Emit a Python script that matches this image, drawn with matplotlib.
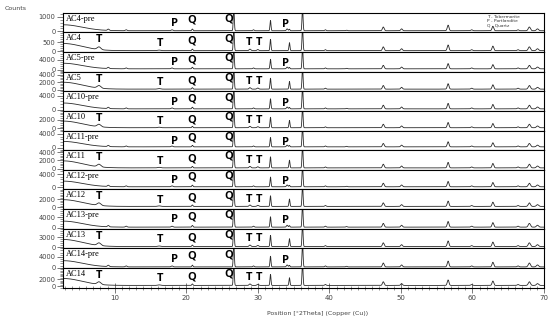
import numpy as np
import matplotlib.pyplot as plt
from matplotlib.ticker import MultipleLocator, AutoMinorLocator

# samples, top to bottom
names = ["AC4-pre", "AC4", "AC5-pre", "AC5", "AC10-pre", "AC10", "AC11-pre", "AC11",
         "AC12-pre", "AC12", "AC13-pre", "AC13", "AC14-pre", "AC14"]
y_low = [-70, -40, -900, -400, -400, -500, -800, -300, -600, -500, -300, -300, -100, -400]
y_high = [1250, 1050, 7000, 4800, 5200, 4000, 5000, 4500, 5300, 4500, 7000, 5500, 7200, 5200]
y_ticks = [[0, 1000], [0, 500], [0, 4000], [0, 2000, 4000], [0, 4000], [0, 2000],
           [0, 4000], [0, 2000, 4000], [0, 4000], [0, 2000], [0, 4000], [0, 3000],
           [0, 4000], [0, 2000]]

# peak list of the "pre" patterns (position deg 2theta, height as part of panel top, width)
pre_pos = [2.8, 9.1, 11.6, 18.0, 20.85, 26.64, 29.4, 31.77, 34.1, 34.42, 36.25,
           39.45, 42.4, 47.54, 50.1, 56.6, 59.9, 62.86, 66.38, 67.96, 69.1]
pre_rel = [0.32, 0.07, 0.05, 0.05, 0.09, 1.3, 0.05, 0.55, 0.1, 0.08, 1.3,
           0.05, 0.03, 0.2, 0.1, 0.3, 0.05, 0.24, 0.05, 0.2, 0.1]
pre_wid = [2.6, 0.12, 0.12, 0.12, 0.08, 0.07, 0.1, 0.07, 0.1, 0.07, 0.07,
           0.1, 0.1, 0.12, 0.12, 0.12, 0.12, 0.12, 0.12, 0.15, 0.15]

# peak list of the cured patterns
post_pos = [2.8, 7.8, 16.2, 20.85, 26.64, 28.9, 30.0, 31.77, 34.42, 36.25,
            39.45, 47.54, 50.1, 56.6, 59.9, 62.86, 66.38, 67.96, 69.1]
post_rel = [0.38, 0.14, 0.03, 0.08, 1.3, 0.08, 0.06, 0.6, 0.42, 1.3,
            0.05, 0.2, 0.1, 0.3, 0.05, 0.24, 0.05, 0.2, 0.1]
post_wid = [2.6, 0.25, 0.2, 0.08, 0.07, 0.12, 0.12, 0.07, 0.07, 0.07,
            0.1, 0.12, 0.12, 0.12, 0.12, 0.12, 0.12, 0.15, 0.15]
baseline = 0.04

# phase labels: (letter, position, height as axes fraction)
pre_marks = [("P", 18.4, 0.45), ("Q", 20.8, 0.62), ("Q", 25.9, 0.68), ("P", 33.8, 0.4)]
post_marks = [("T", 7.8, 0.62), ("T", 16.3, 0.45), ("Q", 20.8, 0.55), ("Q", 25.9, 0.68),
              ("T", 28.8, 0.5), ("T", 30.1, 0.5)]

two_theta = np.arange(2.8, 70.0, 0.01)

fig = plt.figure(figsize=(5.5, 3.22), dpi=100)
axes = fig.subplots(14, 1, sharex=True,
                    gridspec_kw=dict(left=0.115, right=0.989, top=0.96, bottom=0.107, hspace=0))

for i, ax in enumerate(axes):
    pre = names[i].endswith("-pre")
    pos, rel, wid = (pre_pos, pre_rel, pre_wid) if pre else (post_pos, post_rel, post_wid)
    top = y_high[i]
    counts = np.full_like(two_theta, baseline * top)
    for c, h, w in zip(pos, rel, wid):
        counts += h * top * np.exp(-0.5 * ((two_theta - c) / w) ** 2)
    ax.plot(two_theta, counts, color="#2a2a2a", lw=0.6)
    ax.set_ylim(y_low[i], y_high[i])
    ax.set_xlim(2.8, 70)
    ax.set_yticks(y_ticks[i])
    ax.yaxis.set_minor_locator(AutoMinorLocator(5))
    ax.tick_params(axis="y", which="major", labelsize=4.8, length=4, width=0.5,
                   colors="#444444", pad=1.5)
    ax.tick_params(axis="y", which="minor", length=2, width=0.4, colors="#444444")
    ax.tick_params(axis="x", which="both", bottom=False, labelbottom=False)
    for sp in ax.spines.values():
        sp.set_linewidth(0.8)
    ax.text(0.006, 0.9, names[i], transform=ax.transAxes, fontsize=6,
            family="Liberation Serif", va="top", ha="left")
    for letter, x, yf in (pre_marks if pre else post_marks):
        ax.text(x, yf, letter, transform=ax.get_xaxis_transform(), fontsize=8,
                fontweight="bold", family="Open Sans", ha="center", va="center")

bottom_ax = axes[-1]
bottom_ax.xaxis.set_major_locator(MultipleLocator(10))
bottom_ax.xaxis.set_minor_locator(MultipleLocator(1))
bottom_ax.tick_params(axis="x", which="major", bottom=True, labelbottom=True,
                      direction="inout", length=7, width=0.5, labelsize=5,
                      colors="#444444", pad=2)
bottom_ax.tick_params(axis="x", which="minor", bottom=True, direction="inout",
                      length=3.5, width=0.4, colors="#444444")

fig.text(5 / 550, 1 - 8 / 322, "Counts", fontsize=4.5, color="#444444", va="center")
fig.text(318 / 550, 1 - 314 / 322, "Position [\u00b02Theta] (Copper (Cu))", fontsize=4.5,
         color="#444444", ha="center", va="center")
fig.text(487 / 550, 1 - 15 / 322, "T - Tobermorite\nP - Portlandite\nQ - Quartz",
         fontsize=3.2, color="#333333", va="top", ha="left", linespacing=1.1)

fig.savefig("out.png", dpi=100)
